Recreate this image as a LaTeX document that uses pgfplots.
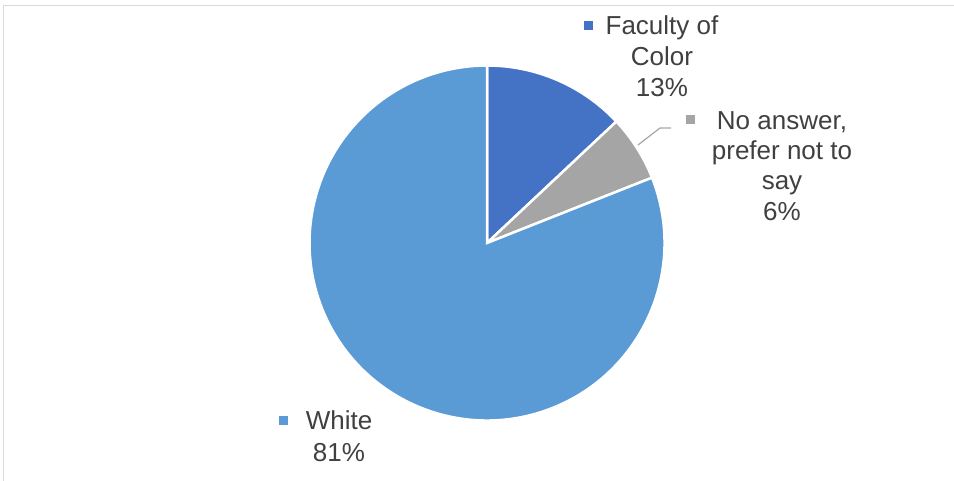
\documentclass[border=0pt]{standalone}
\usepackage{pgfplots}
\pgfplotsset{compat=1.18}
\usepackage{pgfplotstable}
\usepackage{fontspec}
\setmainfont{Liberation Sans}
\definecolor{cFac}{HTML}{4472C4}
\definecolor{cNo}{HTML}{A5A5A5}
\definecolor{cWhite}{HTML}{5B9BD5}
\definecolor{txt}{HTML}{404040}
\definecolor{frm}{HTML}{D9D9D9}
\definecolor{lead}{HTML}{A6A6A6}
\pgfplotstableread{
label value
Faculty 13
NoAnswer 6
White 81
}\piedata
\pgfplotstablegetelem{0}{value}\of\piedata \let\vA\pgfplotsretval
\pgfplotstablegetelem{1}{value}\of\piedata \let\vB\pgfplotsretval
\pgfplotstablegetelem{2}{value}\of\piedata \let\vC\pgfplotsretval
\pgfmathsetmacro\aA{90-3.6*\vA}
\pgfmathsetmacro\aB{\aA-3.6*\vB}
\pgfmathsetmacro\aC{\aB-3.6*\vC}
\newcommand\lbl{\fontsize{26}{30}\selectfont\color{txt}}
\begin{document}
\begin{tikzpicture}[x=1pt,y=1pt]
\useasboundingbox (0,0) rectangle (954,480);
\draw[frm, line width=1.5] (3.5,-10) -- (3.5,474.5) -- (970,474.5);
\begin{axis}[at={(0,0)}, anchor=south west, scale only axis,
  width=954pt, height=480pt, xmin=0, xmax=954, ymin=0, ymax=480,
  hide axis, clip=false]
\fill[cFac, draw=white, line width=2.5] (axis cs:487,237) -- ++(90:177.5) arc[start angle=90, end angle=\aA, radius=177.5] -- cycle;
\fill[cNo, draw=white, line width=2.5] (axis cs:487,237) -- ++(\aA:177.5) arc[start angle=\aA, end angle=\aB, radius=177.5] -- cycle;
\fill[cWhite, draw=white, line width=2.5] (axis cs:487,237) -- ++(\aB:177.5) arc[start angle=\aB, end angle=\aC, radius=177.5] -- cycle;
% leader line
\draw[lead, line width=1.2] (axis cs:638,335) -- (axis cs:660,352) -- (axis cs:671,352);
% labels
\node[anchor=base, inner sep=0] at (axis cs:662,445) {\lbl Faculty of};
\node[anchor=base, inner sep=0] at (axis cs:662,414) {\lbl Color};
\node[anchor=base, inner sep=0] at (axis cs:662,383) {\lbl 13\%};
\node[inner sep=0] at (axis cs:588,454) {\textcolor{cFac}{\rule{9pt}{9pt}}};
\node[anchor=base, inner sep=0] at (axis cs:782,350) {\lbl No answer,};
\node[anchor=base, inner sep=0] at (axis cs:782,320) {\lbl prefer not to};
\node[anchor=base, inner sep=0] at (axis cs:782,290) {\lbl say};
\node[anchor=base, inner sep=0] at (axis cs:782,259) {\lbl 6\%};
\node[inner sep=0] at (axis cs:690,360.5) {\textcolor{cNo}{\rule{9pt}{9pt}}};
\node[anchor=base, inner sep=0] at (axis cs:339,50.5) {\lbl White};
\node[anchor=base, inner sep=0] at (axis cs:339,19) {\lbl 81\%};
\node[inner sep=0] at (axis cs:283,60) {\textcolor{cWhite}{\rule{9pt}{9pt}}};
\end{axis}
\end{tikzpicture}
\end{document}
